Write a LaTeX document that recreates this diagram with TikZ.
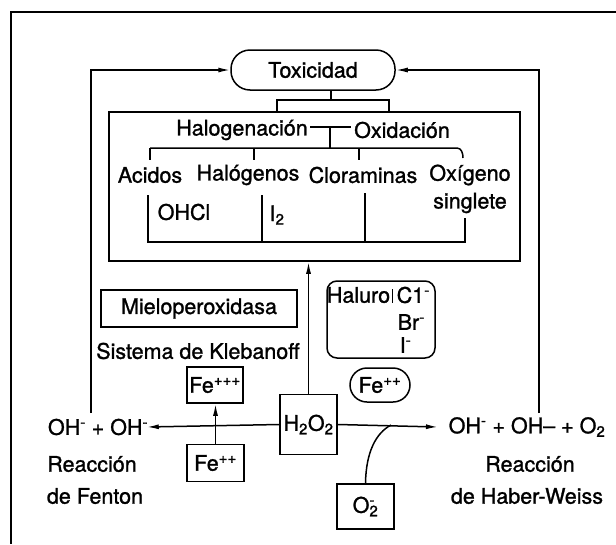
\documentclass[tikz,border=0pt]{standalone}
\usepackage{fontspec}
\setmainfont{TeX Gyre Heros}[FakeBold=1.2]
\usetikzlibrary{arrows.meta}

\tikzset{
  etiqueta/.style={inner sep=0pt, font=\fontsize{21.5}{24}\selectfont},
  caja/.style={draw, inner sep=1pt, font=\fontsize{21.5}{24}\selectfont},
}

\begin{document}
\begin{tikzpicture}[x=1pt, y=-1pt, line width=1.5pt, >={Latex[length=12pt,width=5pt]}]
\useasboundingbox (0,0) rectangle (616,544);

% Draw the frame
\draw (616,12) -- (11,12) -- (11,544);

% Toxicidad and the big box of effects
\node[caja, rounded corners=19pt, minimum width=164pt, minimum height=40pt] (tox) at (313,70) {Toxicidad};
\node[draw, inner sep=0pt, minimum width=411pt, minimum height=149pt] (efectos) at (314.5,186.5) {};

% Bracket between them
\coordinate (tallo) at (331,100);
\coordinate (corA) at (277,100);
\coordinate (corB) at (389,100);
\draw (tallo |- tox.south) -- (tallo);
\draw (corA |- efectos.north) -- (corA) -- (corB) -- (corB |- efectos.north);

% Halogenacion -- Oxidacion
\node[etiqueta] (halog) at (242,130) {Halogenación};
\node[etiqueta] (oxid) at (402,130) {Oxidación};
\coordinate (union) at (330,127);
\coordinate (barra) at (330,148);
\draw ([xshift=2pt]halog.east |- union) -- ([xshift=-2pt]oxid.west |- union);
\draw (union) -- (barra);

% Upper bar with its ticks
\draw (150,148) -- (457,148) to[out=0, in=90] (463,158);
\foreach \xt in {150,254,359}
  \draw (\xt,148) -- (\xt,160);

% Products
\node[etiqueta] (acidos) at (150,175) {Acidos};
\node[etiqueta] (halogenos) at (248,175) {Halógenos};
\node[etiqueta] (cloram) at (363,175) {Cloraminas};
\node[etiqueta] (oxigeno) at (470,175) {Oxígeno};
\node[etiqueta] (singlete) at (470,203) {singlete};

% Lower bracket
\draw (148,195) -- (148,242) -- (465,242) -- (465,218);
\draw (262,195) -- (262,242);
\draw (365,193) -- (365,242);
\node[etiqueta] (ohcl) at (184,212) {OHCl};
\node[etiqueta] (iodo) at (277,215) {I\textsubscript{2}};

% Klebanoff system
\node[caja, minimum width=196pt, minimum height=37pt] (mielo) at (199,308.5) {Mieloperoxidasa};
\node[etiqueta] (kleb) at (198,351) {Sistema de Klebanoff};

% Halides
\node[draw, rounded corners=10pt, minimum width=108pt, minimum height=77pt] (haluro) at (381,319.5) {};
\node[etiqueta] (halu) at (358.5,295) {Haluro};
\node[etiqueta, anchor=west] (cloro) at (396,295) {C1\textsuperscript{-}};
\node[etiqueta, anchor=west] (bromo) at (397,322) {Br\textsuperscript{-}};
\node[etiqueta, anchor=west] (yodo) at (399,345) {I\textsuperscript{-}};
\draw[line width=0.5pt] (392,289) -- (392,303);
\node[caja, rounded corners=17pt, minimum width=60pt, minimum height=34pt] (fedosb) at (380,385) {Fe\textsuperscript{++}};

% Iron and H2O2
\node[caja, minimum width=56pt, minimum height=36pt] (fetres) at (215,385) {Fe\textsuperscript{+++}};
\node[caja, minimum width=57pt, minimum height=37pt] (fedos) at (215.5,463) {Fe\textsuperscript{++}};
\node[caja, minimum width=57pt, minimum height=60pt] (h2o2) at (308.5,424.5) {H\textsubscript{2}O\textsubscript{2}};
\node[caja, minimum width=57pt, minimum height=45pt] (o2) at (365.5,506.5) {O\rlap{\textsuperscript{-}}\textsubscript{2}};

% Fenton side
\node[etiqueta] (ohI) at (98,427) {OH\textsuperscript{-} + OH\textsuperscript{-}};
\node[etiqueta] (reacI) at (92,464) {Reacción};
\node[etiqueta] (fenton) at (95,496) {de Fenton};

% Haber-Weiss side
\node[etiqueta] (ohD) at (527,427) {OH\textsuperscript{-} + OH– + O\textsubscript{2}};
\node[etiqueta] (reacD) at (530,464) {Reacción};
\node[etiqueta] (haber) at (527,496) {de Haber-Weiss};

% Reactions
\draw[->] (h2o2.west) -- ([xshift=-2pt]ohI.east);
\draw[->] (h2o2.east) -- ([xshift=-10pt]ohD.west);
\draw[->] (fedos.north) -- (fedos.north |- fetres.south);
\draw[->] (h2o2.north) -- (h2o2.north |- efectos.south);
\coordinate (cruce) at (391,425);
\draw (o2.north) .. controls (366,452) and (376,433) .. (cruce);

% Feedback to Toxicidad
\coordinate (retI) at (91,413);
\coordinate (retD) at (539,413);
\draw[->] (retI) |- (tox.west);
\draw[->] (retD) |- (tox.east);

\end{tikzpicture}
\end{document}
